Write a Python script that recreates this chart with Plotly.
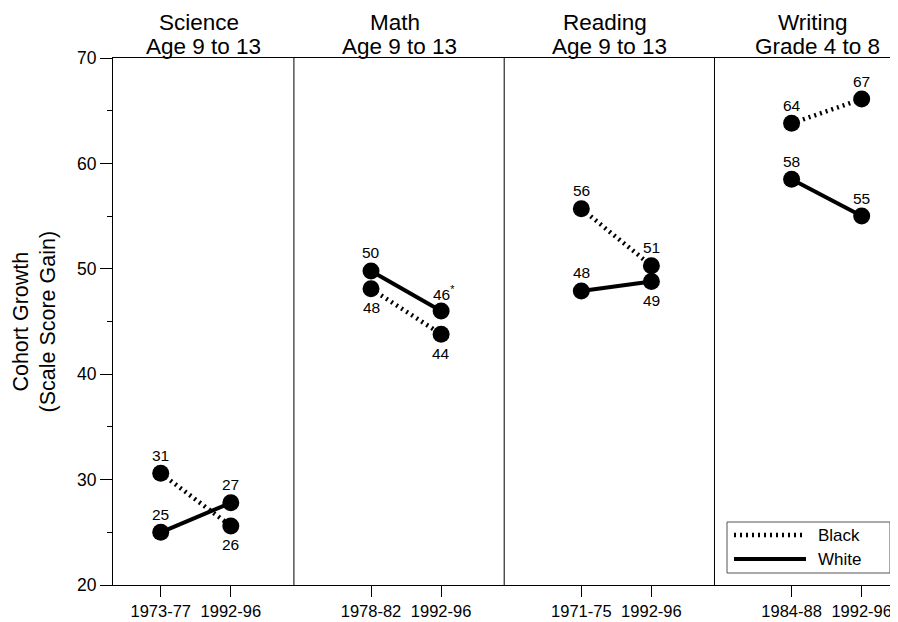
import plotly.graph_objects as go

# ---- data ----
subjects = ["Science", "Math", "Reading", "Writing"]
subtitles = ["Age 9 to 13", "Age 9 to 13", "Age 9 to 13", "Grade 4 to 8"]
cohorts = [["1973-77", "1992-96"], ["1978-82", "1992-96"],
           ["1971-75", "1992-96"], ["1984-88", "1992-96"]]
black_values = [[30.6, 25.6], [48.1, 43.8], [55.7, 50.3], [63.8, 66.1]]
white_values = [[25.0, 27.8], [49.8, 46.0], [47.9, 48.8], [58.5, 55.0]]
black_labels = [["31", "26"], ["48", "44"], ["56", "51"], ["64", "67"]]
white_labels = [["25", "27"], ["50", "46*"], ["48", "49"], ["58", "55"]]
y_ticks = [20, 30, 40, 50, 60, 70]

# ---- label placement (style) ----
black_pos = [["above", "below"], ["below", "below"], ["above", "above"], ["above", "above"]]
white_pos = [["above", "above"], ["above", "above"], ["above", "below"], ["above", "above"]]

FONT = "Arial, Liberation Sans, sans-serif"
OFF = 8  # default page body margin
W, H = 898 - OFF, 622 - OFF
ML, MR, MT, MB = 113 - OFF, 0, 58 - OFF, 37
XMIN, XMAX = 0.319, 11.518

fig = go.Figure()

tickvals, ticktext = [], []
for i in range(len(subjects)):
    xs = [3 * i + 1, 3 * i + 2]
    tickvals += xs
    ticktext += cohorts[i]
    fig.add_trace(go.Scatter(
        x=xs, y=black_values[i], mode="lines+markers", showlegend=False,
        line=dict(color="black", width=4.5, dash="2px,4px"),
        marker=dict(color="black", size=17, symbol="circle")))
    fig.add_trace(go.Scatter(
        x=xs, y=white_values[i], mode="lines+markers", showlegend=False,
        line=dict(color="black", width=4),
        marker=dict(color="black", size=17, symbol="circle")))

annotations = []
for i in range(len(subjects)):
    xs = [3 * i + 1, 3 * i + 2]
    for vals, labs, poss in ((black_values, black_labels, black_pos),
                             (white_values, white_labels, white_pos)):
        for j in range(2):
            txt = labs[i][j]
            xshift = 0
            if txt.endswith("*"):
                txt = txt[:-1] + "<sup>*</sup>"
                xshift = 3
            annotations.append(dict(
                x=xs[j], y=vals[i][j], xref="x", yref="y", text=txt,
                showarrow=False, xshift=xshift,
                yshift=18 if poss[i][j] == "above" else -19,
                font=dict(family=FONT, size=15.5, color="black")))

# panel titles
bounds = [XMIN, 2.9, 5.9, 8.9, 11.83]
for i in range(len(subjects)):
    cx = (bounds[i] + bounds[i + 1]) / 2
    annotations.append(dict(x=cx, y=1, xref="x", yref="paper", text=subjects[i],
                            showarrow=False, yanchor="middle", yshift=36, xshift=-4,
                            font=dict(family=FONT, size=22.5, color="black")))
    annotations.append(dict(x=cx, y=1, xref="x", yref="paper", text=subtitles[i],
                            showarrow=False, yanchor="middle", yshift=12,
                            font=dict(family=FONT, size=22.5, color="black")))

# y axis title
annotations.append(dict(x=0, y=0.5, xref="paper", yref="paper",
                        text="Cohort Growth<br>(Scale Score Gain)", textangle=-90,
                        showarrow=False, xanchor="center", yanchor="middle", xshift=-79,
                        font=dict(family=FONT, size=21.5, color="black")))

# legend (manual), positions given in page pixels
pw, ph = W - ML - MR, H - MT - MB
def px(xp):
    return (xp - OFF - ML) / pw
def py(yp):
    return (H - MB - (yp - OFF)) / ph

shapes = []
for d in [2.9, 5.9, 8.9]:
    shapes.append(dict(type="line", xref="x", yref="paper", x0=d, x1=d, y0=0, y1=1,
                       line=dict(color="black", width=1)))
shapes.append(dict(type="rect", xref="paper", yref="paper",
                   x0=px(727), x1=px(890), y0=py(573), y1=py(522),
                   line=dict(color="#555555", width=1), fillcolor="white"))
shapes.append(dict(type="line", xref="paper", yref="paper",
                   x0=px(734), x1=px(806), y0=py(535), y1=py(535),
                   line=dict(color="black", width=4.5, dash="2px,4px")))
shapes.append(dict(type="line", xref="paper", yref="paper",
                   x0=px(734), x1=px(806), y0=py(559), y1=py(559),
                   line=dict(color="black", width=4)))
for name, yy in (("Black", 535), ("White", 559)):
    annotations.append(dict(x=px(816), y=py(yy), xref="paper", yref="paper", text=name,
                            showarrow=False, xanchor="left", yanchor="middle",
                            font=dict(family=FONT, size=17, color="black")))

fig.update_layout(
    width=W, height=H, margin=dict(l=ML, r=MR, t=MT, b=MB),
    paper_bgcolor="white", plot_bgcolor="white",
    showlegend=False, annotations=annotations, shapes=shapes,
    xaxis=dict(range=[XMIN, XMAX], tickvals=tickvals, ticktext=ticktext,
               showgrid=False, zeroline=False, showline=True, linecolor="black",
               linewidth=1, mirror=True, ticks="outside", ticklen=11, tickcolor="black",
               tickfont=dict(family=FONT, size=16.5, color="black")),
    yaxis=dict(range=[20, 70], tickvals=y_ticks, showgrid=False, zeroline=False,
               showline=True, linecolor="black", linewidth=1, ticks="outside",
               ticklen=12, tickcolor="black",
               minor=dict(dtick=5, tick0=20, ticklen=5, ticks="outside", tickcolor="black", showgrid=False),
               tickfont=dict(family=FONT, size=17.5, color="black")),
)

fig.write_html("out.html")
